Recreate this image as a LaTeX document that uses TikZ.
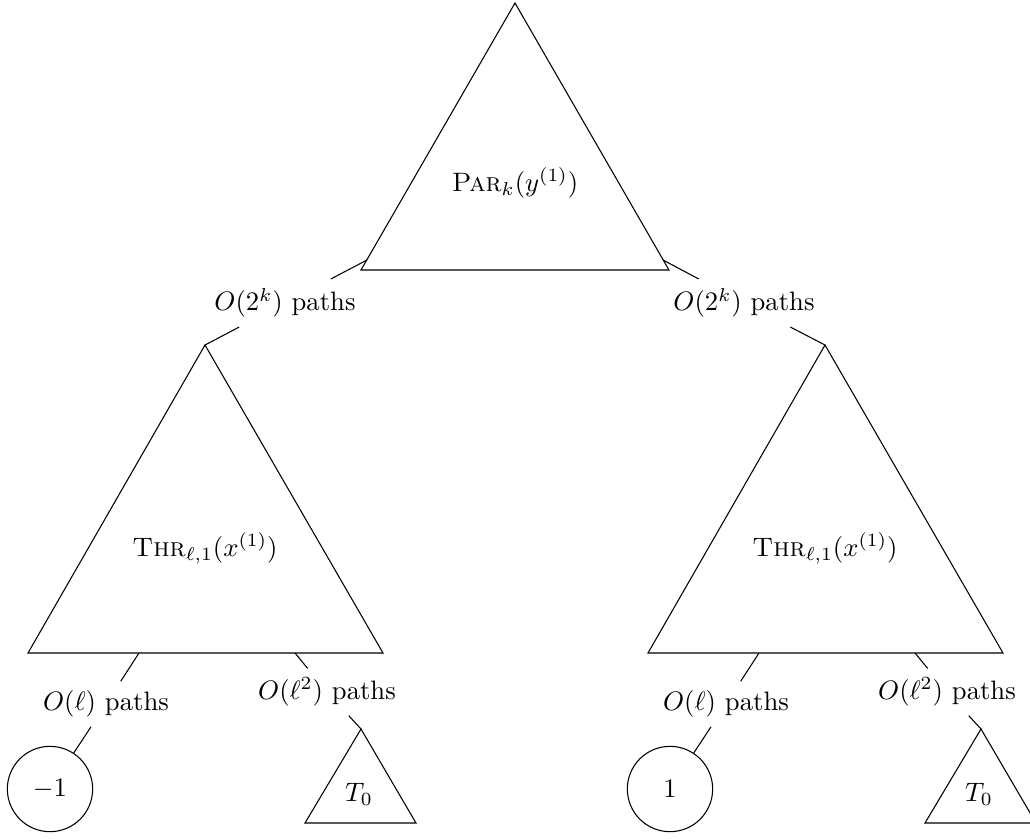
\documentclass[tikz,border=0pt]{standalone}
\begin{document}
\begin{tikzpicture}[x=0.375pt, y=-0.375pt,
  tri/.style={draw, line width=0.4pt},
  lab/.style={inner sep=3.33pt},
  leaf/.style={draw, circle, minimum size=32pt, inner sep=0pt},
  conn/.style={draw, line width=0.4pt}]
\useasboundingbox (0,0) rectangle (1030,838);

% top triangle
\coordinate (topA) at (515,3);
\coordinate (topB) at (361,270);
\coordinate (topC) at (669,270);
\draw[tri] (topA) -- (topB) -- (topC) -- cycle;
\node (par) at (515,183) {$\textsc{Par}_k(y^{(1)})$};
\coordinate (topL) at (367,260);
\coordinate (topR) at (663,260);

% labels under top
\node[lab] (l1) at (285,303) {$O(2^k)$ paths};
\node[lab] (l2) at (744,303) {$O(2^k)$ paths};

\foreach \s/\n/\v in {0/L/{-1}, 620/R/1}{
  \begin{scope}[xshift=\s*0.375pt]
    \coordinate (mid\n A) at (205,345);
    \coordinate (mid\n B) at (28,653);
    \coordinate (mid\n C) at (383,653);
    \draw[tri] (mid\n A) -- (mid\n B) -- (mid\n C) -- cycle;
    \node (thr\n) at (205,548) {$\textsc{Thr}_{\ell,1}(x^{(1)})$};
    \coordinate (mid\n p) at (139,653);
    \coordinate (mid\n q) at (295,653);
    \node[lab] (pa\n) at (106,704) {$O(\ell)$ paths};
    \node[lab] (pb\n) at (327,692) {$O(\ell^2)$ paths};
    \node[leaf] (leaf\n) at (50,789) {$\v$};
    \coordinate (small\n A) at (361,729);
    \coordinate (small\n B) at (305,823);
    \coordinate (small\n C) at (416,823);
    \draw[tri] (small\n A) -- (small\n B) -- (small\n C) -- cycle;
    \node (tzero\n) at (359,794) {$T_0$};
    \draw[conn] (mid\n p) -- (pa\n);
    \draw[conn] (mid\n q) -- (pb\n);
    \draw[conn] (pa\n) -- (leaf\n);
    \draw[conn] (pb\n) -- (small\n A);
  \end{scope}
}

\draw[conn] (topL) -- (l1);
\draw[conn] (topR) -- (l2);
\draw[conn] (l1) -- (midLA);
\draw[conn] (l2) -- (midRA);
\end{tikzpicture}
\end{document}
